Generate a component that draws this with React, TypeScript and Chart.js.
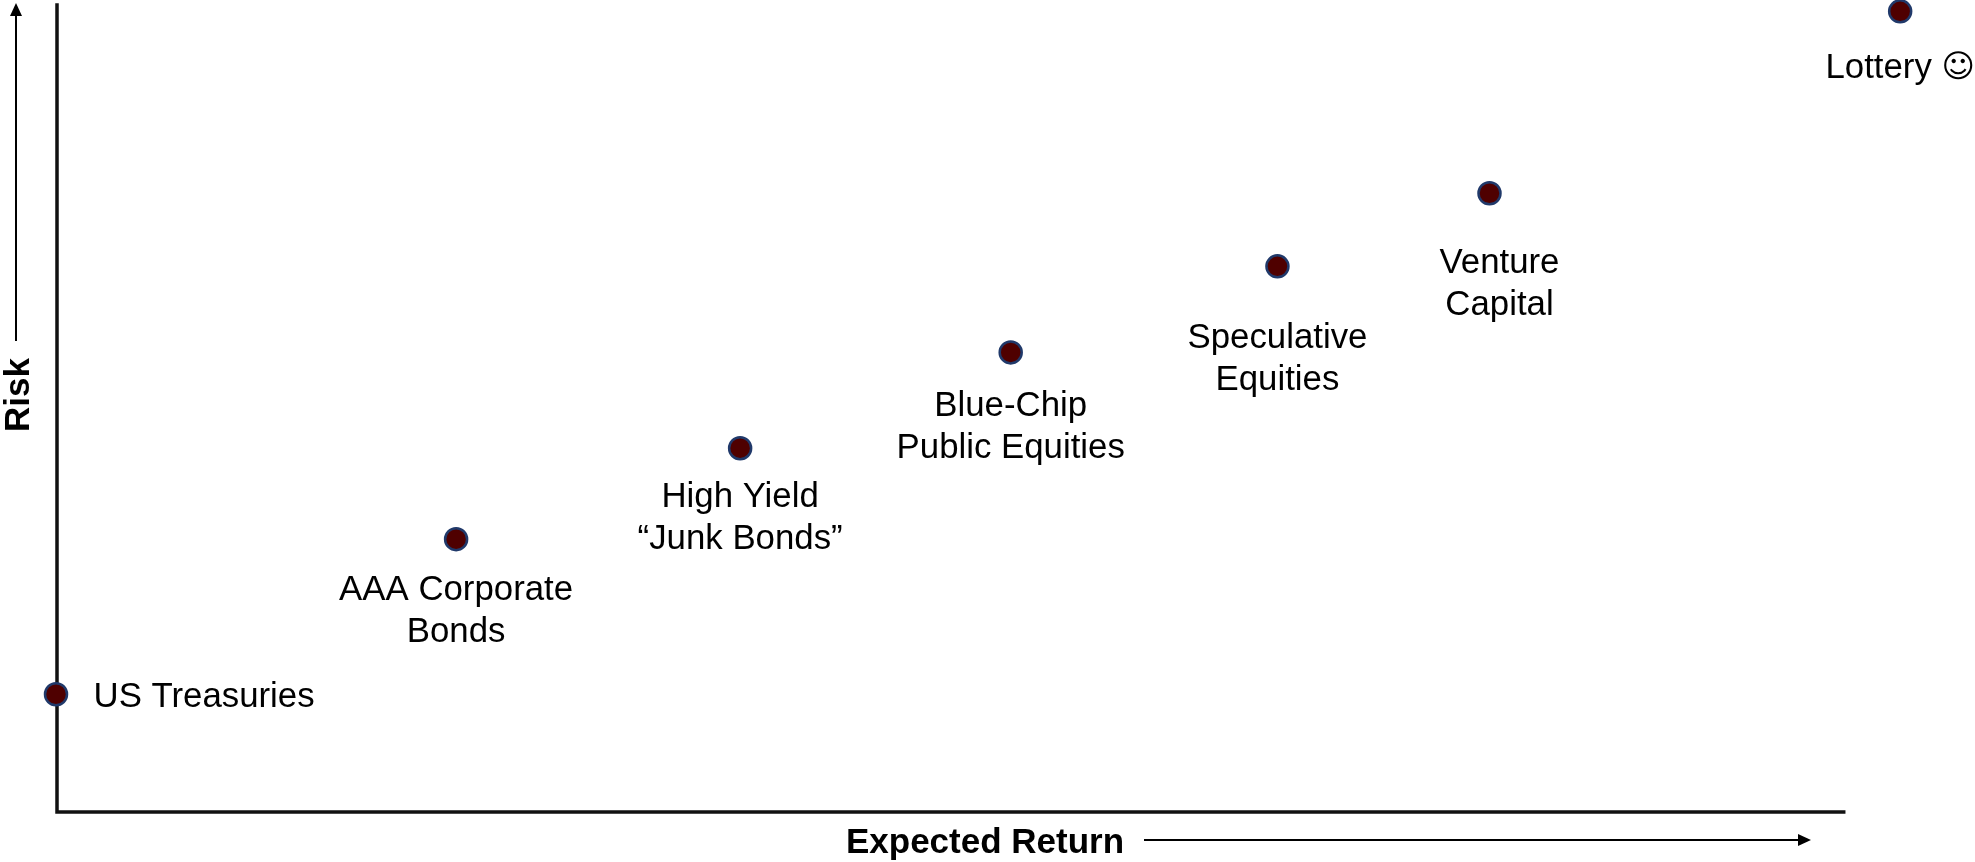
import React, { useEffect, useRef } from "react";
import { Chart, registerables } from "chart.js";

Chart.register(...registerables);

// Asset classes, read along the risk / return line
const assetNames: string[][] = [
  ["US Treasuries"],
  ["AAA Corporate", "Bonds"],
  ["High Yield", "“Junk Bonds”"],
  ["Blue-Chip", "Public Equities"],
  ["Speculative", "Equities"],
  ["Venture", "Capital"],
  ["Lottery ☺"],
];
const expectedReturn = [0, 20.85, 35.65, 49.75, 63.65, 74.7, 96.1];
const risk = [14.5, 33.6, 44.8, 56.6, 67.2, 76.2, 98.6];

const xAxisTitle = "Expected Return";
const yAxisTitle = "Risk";

// Pixel offset of each label's first line from its marker
const labelOffsets = [
  { dx: 37.5, dy: 3.5, align: "left" as CanvasTextAlign },
  { dx: 0, dy: 51.5, align: "center" as CanvasTextAlign },
  { dx: 0, dy: 49.5, align: "center" as CanvasTextAlign },
  { dx: 0, dy: 53.5, align: "center" as CanvasTextAlign },
  { dx: 0, dy: 72.5, align: "center" as CanvasTextAlign },
  { dx: 10, dy: 70.5, align: "center" as CanvasTextAlign },
  { dx: 0, dy: 57.5, align: "center" as CanvasTextAlign },
];

const FONT_FAMILY = '"Liberation Sans", Arial, sans-serif';
const LABEL_FONT = `34.8px ${FONT_FAMILY}`;
const SMILEY_FONT = `32px "DejaVu Sans", ${FONT_FAMILY}`;
const SMILEY = "☺";
const INK = "#000000";

function arrowHead(ctx: CanvasRenderingContext2D, x: number, y: number, dx: number, dy: number) {
  const len = 13;
  const half = 6;
  ctx.beginPath();
  ctx.moveTo(x, y);
  ctx.lineTo(x - dx * len - dy * half, y - dy * len - dx * half);
  ctx.lineTo(x - dx * len + dy * half, y - dy * len + dx * half);
  ctx.closePath();
  ctx.fill();
}

// A line of label text; a trailing smiley uses its own font next to the words before it
function drawLabelLine(ctx: CanvasRenderingContext2D, line: string, x: number, y: number, align: CanvasTextAlign) {
  if (!line.endsWith(SMILEY)) {
    ctx.textAlign = align;
    ctx.font = LABEL_FONT;
    ctx.fillText(line, x, y);
    return;
  }
  const words = line.slice(0, -SMILEY.length);
  ctx.font = LABEL_FONT;
  const wordsWidth = ctx.measureText(words).width;
  ctx.font = SMILEY_FONT;
  const smileyWidth = ctx.measureText(SMILEY).width;
  const start = x - (wordsWidth + smileyWidth) / 2;
  ctx.textAlign = "left";
  ctx.font = LABEL_FONT;
  ctx.fillText(words, start, y);
  ctx.font = SMILEY_FONT;
  ctx.fillText(SMILEY, start + wordsWidth, y);
}

// Hand-drawn axes: both lines stop short of or past the scale range, so they are stroked here
const axesPlugin = {
  id: "riskReturnAxes",
  beforeDatasetsDraw(chart: Chart) {
    const { ctx, scales } = chart;
    const x0 = scales.x.getPixelForValue(0) + 1;
    const xEnd = scales.x.getPixelForValue(93.25);
    const y0 = scales.y.getPixelForValue(0);
    const yEnd = scales.y.getPixelForValue(99.6);

    ctx.save();
    ctx.strokeStyle = "#111111";
    ctx.fillStyle = INK;
    ctx.lineWidth = 3.5;
    ctx.beginPath();
    ctx.moveTo(x0, yEnd);
    ctx.lineTo(x0, y0);
    ctx.lineTo(xEnd, y0);
    ctx.stroke();

    // Direction arrows beside the axis titles
    ctx.lineWidth = 2;
    ctx.strokeStyle = INK;
    ctx.beginPath();
    ctx.moveTo(16, 341);
    ctx.lineTo(16, 10);
    ctx.moveTo(1144, 840);
    ctx.lineTo(1803, 840);
    ctx.stroke();
    arrowHead(ctx, 16, 3, 0, -1);
    arrowHead(ctx, 1811, 840, 1, 0);

    ctx.font = `bold 35px ${FONT_FAMILY}`;
    ctx.textAlign = "center";
    ctx.textBaseline = "middle";
    ctx.fillText(xAxisTitle, 985, 843);
    ctx.translate(19, 395);
    ctx.rotate(-Math.PI / 2);
    ctx.fillText(yAxisTitle, 0, 0);
    ctx.restore();
  },
  afterDatasetsDraw(chart: Chart) {
    const { ctx } = chart;
    const points = chart.getDatasetMeta(0).data;
    ctx.save();
    ctx.fillStyle = INK;
    ctx.textBaseline = "middle";
    points.forEach((pt, i) => {
      const off = labelOffsets[i];
      assetNames[i].forEach((line, j) => {
        drawLabelLine(ctx, line, pt.x + off.dx, pt.y + off.dy + j * 42, off.align);
      });
    });
    ctx.restore();
  },
};

export default function App() {
  const canvasRef = useRef<HTMLCanvasElement>(null);

  useEffect(() => {
    const chart = new Chart(canvasRef.current!, {
      type: "scatter",
      data: {
        datasets: [
          {
            data: expectedReturn.map((x, i) => ({ x, y: risk[i] })),
            backgroundColor: "#4f0000",
            borderColor: "#20396a",
            borderWidth: 2.5,
            pointRadius: 11,
            pointHoverRadius: 11,
            clip: false,
          },
        ],
      },
      options: {
        responsive: false,
        animation: false,
        layout: { autoPadding: false, padding: { left: 56, right: 0, top: 0, bottom: 50 } },
        plugins: { legend: { display: false }, tooltip: { enabled: false } },
        scales: {
          x: { type: "linear", display: false, min: 0, max: 100 },
          y: { type: "linear", display: false, min: 0, max: 100 },
        },
      },
      plugins: [axesPlugin],
    });
    return () => chart.destroy();
  }, []);

  return (
    <canvas
      ref={canvasRef}
      width={1975}
      height={862}
      style={{ position: "absolute", left: 0, top: 0, display: "block", background: "#ffffff" }}
    />
  );
}
